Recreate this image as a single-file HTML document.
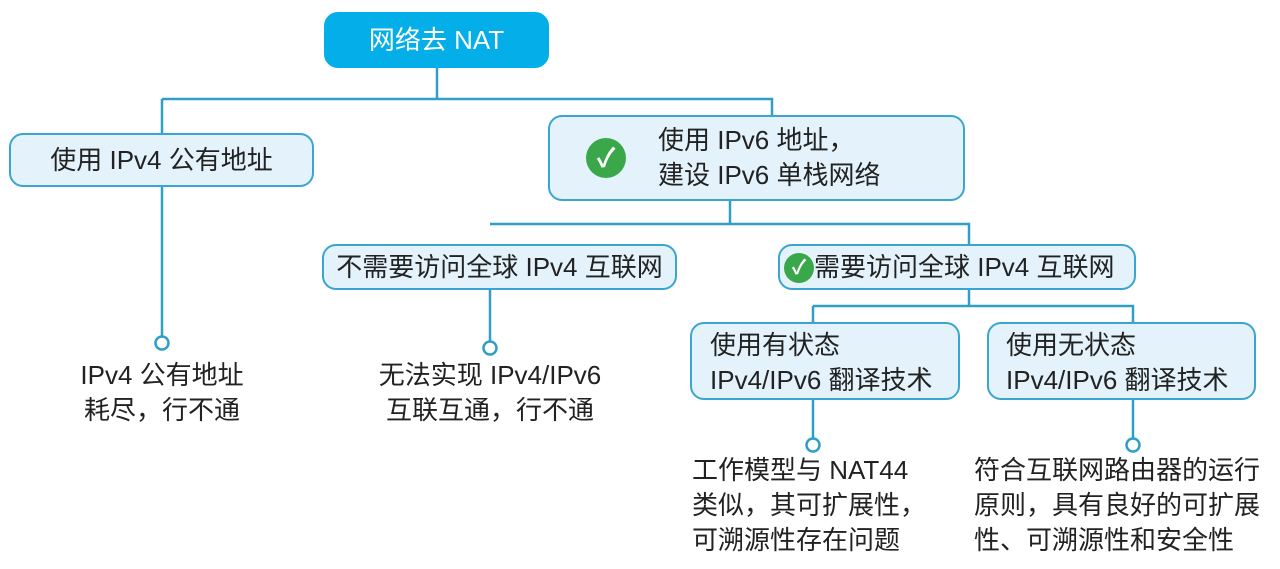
<!DOCTYPE html>
<html><head><meta charset="utf-8"><style>
body{margin:0;width:1280px;height:569px;background:#fff;position:relative;overflow:hidden;font-family:"Liberation Sans","Noto Sans CJK SC",sans-serif;color:#222}
.b{position:absolute;box-sizing:border-box;border:2px solid #3aa6cf;background:#e4f3fb;border-radius:14px;font-size:26px;line-height:35px}
.t{position:absolute;font-size:26px;line-height:35px;white-space:nowrap}
.ck{display:inline-block;border-radius:50%;background:#3aa84a;color:#fff;text-align:center;font-weight:bold}
svg{position:absolute;left:0;top:0}
</style></head><body>
<svg width="1280" height="569" fill="none" stroke="#2f9fca" stroke-width="2.5">
<path d="M437 68V99M162 99H772V115M162 99V336M730 200V224M490 224H969V245M490 290V341M969 290V306M813 306H1133V322M813 306V322M813 400V438M1133 400V438"/>
<circle cx="162" cy="343" r="6.5" fill="#fff"/>
<circle cx="490" cy="348" r="6.5" fill="#fff"/>
<circle cx="813" cy="445" r="6.5" fill="#fff"/>
<circle cx="1133" cy="445" r="6.5" fill="#fff"/>
</svg>
<div class="b" style="left:324px;top:12px;width:225px;height:56px;background:#04aee8;border-color:#04aee8;color:#fff;text-align:center;line-height:52px">网络去 NAT</div>
<div class="b" style="left:9px;top:133px;width:305px;height:54px;text-align:center;line-height:50px">使用 IPv4 公有地址</div>
<div class="b" style="left:548px;top:115px;width:417px;height:86px">
<span class="ck" style="position:absolute;left:36px;top:21px;width:40px;height:40px;line-height:40px;font-size:26px">✓</span>
<div style="position:absolute;left:108px;top:6px">使用 IPv6 地址，<br>建设 IPv6 单栈网络</div></div>
<div class="b" style="left:322px;top:244px;width:355px;height:46px;text-align:center;line-height:42px;white-space:nowrap">不需要访问全球 IPv4 互联网</div>
<div class="b" style="left:778px;top:244px;width:358px;height:46px;line-height:42px;padding-left:4px;white-space:nowrap"><span class="ck" style="width:30px;height:30px;line-height:30px;font-size:20px;vertical-align:2px">✓</span>需要访问全球 IPv4 互联网</div>
<div class="b" style="left:690px;top:322px;width:270px;height:78px;padding:4px 0 0 18px;white-space:nowrap">使用有状态<br>IPv4/IPv6 翻译技术</div>
<div class="b" style="left:987px;top:322px;width:269px;height:78px;padding:4px 0 0 17px;white-space:nowrap">使用无状态<br>IPv4/IPv6 翻译技术</div>
<div class="t" style="left:52px;top:358px;width:220px;text-align:center">IPv4 公有地址<br>耗尽，行不通</div>
<div class="t" style="left:350px;top:358px;width:280px;text-align:center">无法实现 IPv4/IPv6<br>互联互通，行不通</div>
<div class="t" style="left:692px;top:453px">工作模型与 NAT44<br>类似，其可扩展性，<br>可溯源性存在问题</div>
<div class="t" style="left:974px;top:453px">符合互联网路由器的运行<br>原则，具有良好的可扩展<br>性、可溯源性和安全性</div>
</body></html>
